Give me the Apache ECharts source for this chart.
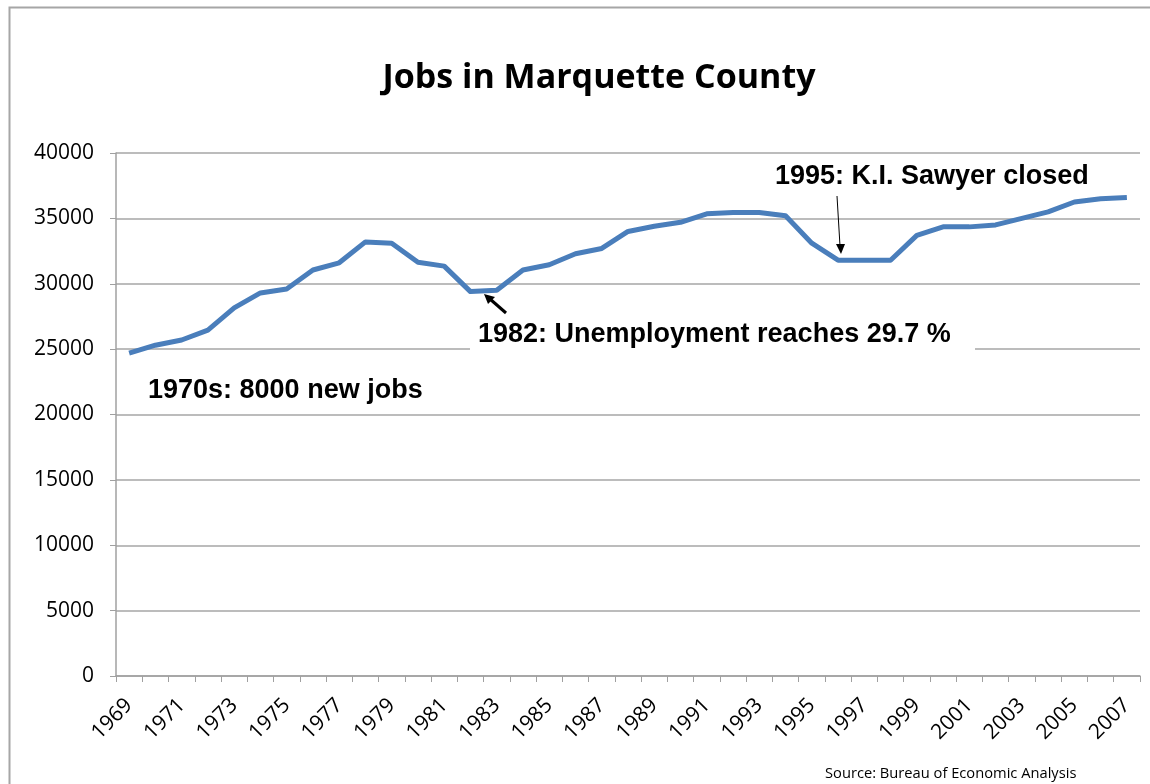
<!DOCTYPE html>
<html>
<head>
<meta charset="utf-8">
<script src="https://cdn.jsdelivr.net/npm/echarts@6/dist/echarts.min.js"></script>
<style>
	html, body { margin: 0; padding: 0; background: #fff; }
	#main { width: 1150px; height: 784px; }
</style>
</head>
<body>
<div id="main"></div>
<script>
var years = ['1969', '1970', '1971', '1972', '1973', '1974', '1975', '1976', '1977', '1978',
	'1979', '1980', '1981', '1982', '1983', '1984', '1985', '1986', '1987', '1988',
	'1989', '1990', '1991', '1992', '1993', '1994', '1995', '1996', '1997', '1998',
	'1999', '2000', '2001', '2002', '2003', '2004', '2005', '2006', '2007'];
var jobs = [24700, 25300, 25700, 26450, 28150, 29300, 29600, 31050, 31600, 33200,
	33100, 31650, 31350, 29400, 29500, 31050, 31450, 32300, 32700, 34000,
	34400, 34700, 35350, 35450, 35450, 35200, 33100, 31800, 31800, 31800,
	33700, 34350, 34350, 34500, 35000, 35500, 36250, 36500, 36600];
var yTicks = [0, 40000, 5000]; // min, max, step

var myChart = echarts.init(document.getElementById('main'));

var annoFont = 'bold 27px "Liberation Sans", Arial, sans-serif';

var option = {
	animation: false,
	title: {
		text: 'Jobs in Marquette County',
		left: 594,
		top: 56,
		textAlign: 'center',
		textStyle: {
			fontFamily: '"Open Sans", sans-serif',
			fontWeight: 'bold',
			fontSize: 34,
			color: '#000'
		}
	},
	grid: {
		left: 116,
		right: 10,
		top: 153,
		bottom: 108
	},
	xAxis: {
		type: 'category',
		data: years,
		boundaryGap: true,
		axisLine: { lineStyle: { color: '#a0a0a0', width: 1.5 } },
		axisTick: { show: true, alignWithLabel: false, interval: 0, length: 6, lineStyle: { color: '#a0a0a0' } },
		axisLabel: {
			interval: 1,
			rotate: 45,
			margin: 26,
			fontFamily: '"Open Sans", sans-serif',
			fontSize: 21,
			color: '#000'
		},
		splitLine: { show: false }
	},
	yAxis: {
		type: 'value',
		min: yTicks[0],
		max: yTicks[1],
		interval: yTicks[2],
		axisLine: { show: true, lineStyle: { color: '#a0a0a0', width: 1.5 } },
		axisTick: { show: true, length: 6, lineStyle: { color: '#a0a0a0' } },
		axisLabel: {
			margin: 22,
			formatter: function (v) { return String(v); },
			fontFamily: '"Open Sans", sans-serif',
			fontSize: 21,
			color: '#000'
		},
		splitLine: { lineStyle: { color: '#a6a6a6', width: 1.5 } }
	},
	series: [{
		name: 'Jobs',
		type: 'line',
		data: jobs,
		symbol: 'none',
		lineStyle: { color: '#4a7ebb', width: 5, join: 'round' },
		z: 3
	}],
	graphic: [
		{
			type: 'rect',
			left: 7, top: 5,
			shape: { width: 1200, height: 900 },
			style: { fill: 'none', stroke: '#a6a6a6', lineWidth: 2 },
			silent: true
		},
		{
			type: 'text',
			left: 148, top: 377,
			style: { text: '1970s: 8000 new jobs', font: annoFont, fill: '#000' },
			z: 10
		},
		{
			type: 'rect',
			left: 470, top: 318,
			shape: { width: 505, height: 34 },
			style: { fill: '#fff' },
			z: 9
		},
		{
			type: 'text',
			left: 478, top: 321,
			style: { text: '1982: Unemployment reaches 29.7 %', font: annoFont, fill: '#000' },
			z: 10
		},
		{
			type: 'text',
			left: 775, top: 163,
			style: { text: '1995: K.I. Sawyer closed', font: annoFont, fill: '#000' },
			z: 10
		},
		// 1982 arrow
		{
			type: 'line',
			shape: { x1: 506, y1: 313, x2: 490, y2: 299 },
			style: { stroke: '#000', lineWidth: 3 },
			z: 10
		},
		{
			type: 'polygon',
			shape: { points: [[484, 294], [495, 297], [488, 304]] },
			style: { fill: '#000' },
			z: 10
		},
		// 1995 arrow
		{
			type: 'line',
			shape: { x1: 837, y1: 196, x2: 840, y2: 246 },
			style: { stroke: '#000', lineWidth: 1 },
			z: 10
		},
		{
			type: 'polygon',
			shape: { points: [[841, 254], [836, 244], [845, 244]] },
			style: { fill: '#000' },
			z: 10
		},
		{
			type: 'text',
			left: 825, top: 766,
			style: { text: 'Source: Bureau of Economic Analysis', font: '14.7px "Open Sans", sans-serif', fill: '#000' },
			z: 10
		}
	]
};
myChart.setOption(option);
</script>
</body>
</html>
